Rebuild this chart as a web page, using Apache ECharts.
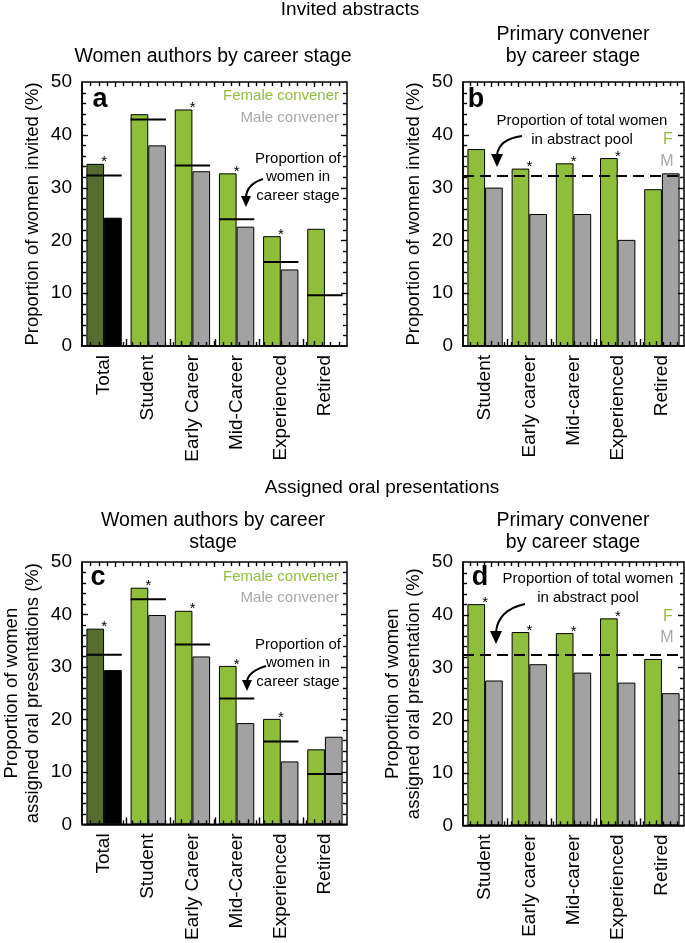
<!DOCTYPE html>
<html>
<head>
<meta charset="utf-8">
<script src="https://cdn.jsdelivr.net/npm/echarts@6/dist/echarts.min.js"></script>
<style>
html,body{margin:0;padding:0;background:#fff;}
#chart{width:685px;height:943px;}
</style>
</head>
<body>
<div id="chart"></div>
<script>
// ---------- data ----------
const stageCats = ['Total', 'Student', 'Early Career', 'Mid-Career', 'Experienced', 'Retired'];
const convenerCats = ['Student', 'Early career', 'Mid-career', 'Experienced', 'Retired'];
const yTicks = [0, 10, 20, 30, 40, 50];

// panel a: invited abstracts, women authors by career stage
const invitedFemaleConv = [34.5, 43.9, 44.8, 32.7, 20.8, 22.2];
const invitedMaleConv = [24.3, 38.0, 33.1, 22.6, 14.5, null];
const invitedStageShare = [32.3, 42.9, 34.2, 24.0, 15.9, 9.6];
const invitedStageSig = [1, 0, 1, 1, 1, 0];

// panel b: invited abstracts, primary convener by career stage
const invitedConvF = [37.3, 33.6, 34.6, 35.6, 29.7];
const invitedConvM = [30.0, 25.0, 25.0, 20.1, 32.7];
const invitedConvSig = [0, 1, 1, 1, 0];
const invitedPoolShare = 32.3;

// panel c: oral presentations, women authors by career stage
const oralFemaleConv = [37.3, 45.1, 40.7, 30.2, 20.1, 14.3];
const oralMaleConv = [29.4, 39.9, 32.0, 19.3, 12.0, 16.7];
const oralStageShare = [32.3, 42.9, 34.3, 24.0, 15.8, 9.6];
const oralStageSig = [1, 1, 1, 1, 1, 0];

// panel d: oral presentations, primary convener by career stage
const oralConvF = [42.0, 36.7, 36.5, 39.3, 31.6];
const oralConvM = [27.5, 30.6, 29.0, 27.1, 25.1];
const oralConvSig = [1, 1, 1, 1, 0];
const oralPoolShare = 32.3;

// ---------- style ----------
const FONT = '"Liberation Sans", Arial, Helvetica, sans-serif';
const GREEN = '#8fbe3a';
const DARKGREEN = '#566d2f';
const GRAY = '#a2a2a2';
const BLACK = '#000';
const Y_MAX = 50, Y_MINOR = 2;

const grids = [
  {left: 82, top: 82, width: 265, height: 264},
  {left: 463, top: 82, width: 221, height: 264},
  {left: 82, top: 562, width: 265, height: 264},
  {left: 463, top: 562, width: 221, height: 264}
];

const yNames = [
  'Proportion of women invited (%)',
  'Proportion of women invited (%)',
  'Proportion of women\nassigned oral presentations (%)',
  'Proportion of women\nassigned oral presentation (%)'
];
const catsFor = [stageCats, convenerCats, stageCats, convenerCats];

const xAxes = [], yAxes = [];
grids.forEach((g, i) => {
  xAxes.push({
    type: 'category', gridIndex: i, data: catsFor[i], position: 'bottom',
    axisLine: {show: true, lineStyle: {color: BLACK, width: 1.5}},
    axisTick: {show: false},
    axisLabel: {rotate: 90, fontSize: 19, color: BLACK, fontFamily: FONT, margin: 9, interval: 0},
    splitLine: {show: false}
  });
  yAxes.push({
    type: 'value', gridIndex: i, position: 'left', min: 0, max: Y_MAX, interval: 10,
    axisLine: {show: true, onZero: false, lineStyle: {color: BLACK, width: 1.5}},
    axisTick: {show: false},
    axisLabel: {fontSize: 19, color: BLACK, fontFamily: FONT, margin: 10,
      formatter: v => yTicks.includes(v) ? String(v) : ''},
    splitLine: {show: false},
    name: yNames[i], nameLocation: 'middle', nameGap: 39, nameRotate: 90,
    nameTextStyle: {fontSize: 18.5, color: BLACK, fontFamily: FONT, lineHeight: 21}
  });
});

function barItems(vals, sig, firstColor) {
  return vals.map((v, k) => {
    const it = {value: v};
    if (k === 0 && firstColor) it.itemStyle = {color: firstColor};
    if (sig && sig[k]) it.label = {show: true};
    return it;
  });
}

const starLabel = {show: false, position: 'top', distance: 0, formatter: '*', offset: [9, 6],
  fontSize: 15, color: BLACK, fontFamily: FONT};

function barSeries(i, vals, color, sig, firstColor, extra) {
  return Object.assign({
    type: 'bar', xAxisIndex: i, yAxisIndex: i, data: barItems(vals, sig, firstColor),
    barGap: '0%', barCategoryGap: '20%',
    itemStyle: {color: color, borderColor: BLACK, borderWidth: 1},
    label: starLabel, silent: true, animation: false
  }, extra || {});
}

function stageLine(i, vals) {
  return {
    type: 'custom', xAxisIndex: i, yAxisIndex: i, z: 5, silent: true, animation: false,
    data: vals.map((v, k) => [k, v]),
    renderItem: function (params, api) {
      const c = api.coord([api.value(0), api.value(1)]);
      const w = api.size([1, 0])[0] * 0.4;
      return {type: 'line', shape: {x1: c[0] - w, y1: c[1], x2: c[0] + w, y2: c[1]},
        style: {stroke: BLACK, lineWidth: 2}};
    }
  };
}

// frame with inward ticks on all four sides (from the axis scales)
function frame(i, nCats) {
  return {
    type: 'custom', xAxisIndex: i, yAxisIndex: i, z: 20, silent: true, animation: false,
    data: [[0, 0]],
    renderItem: function (params, api) {
      const bw = api.size([1, 0])[0];
      const x0 = api.coord([0, 0])[0] - bw / 2;
      const x1 = api.coord([nCats - 1, 0])[0] + bw / 2;
      const yb = api.coord([0, 0])[1];
      const yt = api.coord([0, Y_MAX])[1];
      const st = {stroke: BLACK, lineWidth: 1.4};
      const ch = [];
      ch.push({type: 'rect', shape: {x: x0, y: yt, width: x1 - x0, height: yb - yt},
        style: {fill: null, stroke: BLACK, lineWidth: 1.5}});
      for (let v = Y_MINOR; v < Y_MAX; v += Y_MINOR) {
        const y = Math.round(api.coord([0, v])[1]) + 0.5;
        const len = (v % 10 === 0) ? 6 : 4;
        ch.push({type: 'line', shape: {x1: x0, y1: y, x2: x0 + len, y2: y}, style: st});
        ch.push({type: 'line', shape: {x1: x1, y1: y, x2: x1 - len, y2: y}, style: st});
      }
      const nx = 32;
      for (let k = 1; k < nx; k++) {
        const x = Math.round(x0 + (x1 - x0) * k / nx) + 0.5;
        const len = (k % 4 === 0) ? 5 : 4;
        ch.push({type: 'line', shape: {x1: x, y1: yt, x2: x, y2: yt + len}, style: st});
        ch.push({type: 'line', shape: {x1: x, y1: yb, x2: x, y2: yb - len}, style: st});
      }
      for (let k = 1; k < nCats; k++) {
        const x = Math.round(x0 + bw * k) + 0.5;
        ch.push({type: 'line', shape: {x1: x, y1: yb, x2: x, y2: yb - 7}, style: st});
      }
      return {type: 'group', children: ch};
    }
  };
}

function poolLine(v) {
  return {silent: true, symbol: 'none', animation: false,
    lineStyle: {color: BLACK, width: 2, type: [11, 6]}, label: {show: false},
    data: [{yAxis: v}]};
}

const series = [
  barSeries(0, invitedFemaleConv, GREEN, invitedStageSig, DARKGREEN),
  barSeries(0, invitedMaleConv, GRAY, null, BLACK),
  stageLine(0, invitedStageShare),
  frame(0, stageCats.length),
  barSeries(1, invitedConvF, GREEN, invitedConvSig, null, {markLine: poolLine(invitedPoolShare)}),
  barSeries(1, invitedConvM, GRAY, null, null),
  frame(1, convenerCats.length),
  barSeries(2, oralFemaleConv, GREEN, oralStageSig, DARKGREEN),
  barSeries(2, oralMaleConv, GRAY, null, BLACK),
  stageLine(2, oralStageShare),
  frame(2, stageCats.length),
  barSeries(3, oralConvF, GREEN, oralConvSig, null, {markLine: poolLine(oralPoolShare)}),
  barSeries(3, oralConvM, GRAY, null, null),
  frame(3, convenerCats.length)
];

function txt(text, x, y, opts) {
  return {type: 'text', z: 50, style: Object.assign({
    text: text, x: x, y: y, font: '15px ' + FONT, fill: BLACK,
    textAlign: 'center', textVerticalAlign: 'middle'
  }, opts || {})};
}
function arrow(x0, y0, cx, cy, x1, y1, hw, hh) {
  return [
    {type: 'bezierCurve', z: 50, shape: {x1: x0, y1: y0, cpx1: cx, cpy1: cy, x2: x1, y2: y1},
      style: {stroke: BLACK, lineWidth: 2, fill: null}},
    {type: 'polygon', z: 50, shape: {points: [[x1 - hw, y1 - 1], [x1 + hw, y1 - 1], [x1, y1 + hh]]},
      style: {fill: BLACK}}
  ];
}

const graphic = [
  txt('Invited abstracts', 350, 10, {font: '19px ' + FONT}),
  txt('Assigned oral presentations', 382, 488, {font: '19px ' + FONT}),
  txt('Women authors by career stage', 213, 57, {font: '19.5px ' + FONT}),
  txt('Primary convener\nby career stage', 573, 46, {font: '19.5px ' + FONT, lineHeight: 22}),
  txt('Women authors by career\nstage', 213, 532, {font: '19.5px ' + FONT, lineHeight: 22}),
  txt('Primary convener\nby career stage', 573, 532, {font: '19.5px ' + FONT, lineHeight: 22}),

  txt('a', 100, 100, {font: 'bold 27px ' + FONT}),
  txt('b', 476, 100, {font: 'bold 27px ' + FONT}),
  txt('c', 98, 578, {font: 'bold 27px ' + FONT}),
  txt('d', 480, 578, {font: 'bold 27px ' + FONT}),

  txt('Female convener', 339, 96, {textAlign: 'right', fill: GREEN}),
  txt('Male convener', 339, 118, {textAlign: 'right', fill: '#a8a8a8'}),
  txt('Proportion of\nwomen in\ncareer stage', 298, 177, {lineHeight: 18.5}),
  ...arrow(263, 179, 247, 184, 246, 197, 5, 10),

  txt('Proportion of total women\nin abstract pool', 582, 130, {lineHeight: 19}),
  txt('F', 668, 140, {fill: GREEN, font: '16px ' + FONT}),
  txt('M', 667, 162, {fill: '#a8a8a8', font: '16px ' + FONT}),
  ...arrow(522, 136, 499, 139, 497, 155, 6, 12),

  txt('Female convener', 339, 577, {textAlign: 'right', fill: GREEN}),
  txt('Male convener', 339, 598, {textAlign: 'right', fill: '#a8a8a8'}),
  txt('Proportion of\nwomen in\ncareer stage', 298, 663, {lineHeight: 18.5}),
  ...arrow(266, 666, 249, 671, 247, 681, 5, 10),

  txt('Proportion of total women\nin abstract pool', 588, 588, {lineHeight: 19}),
  txt('F', 668, 617, {fill: GREEN, font: '16px ' + FONT}),
  txt('M', 667, 638, {fill: '#a8a8a8', font: '16px ' + FONT}),
  ...arrow(525, 604, 498, 610, 496, 632, 6, 12)
];

const chart = echarts.init(document.getElementById('chart'), null, {renderer: 'canvas'});
chart.setOption({
  backgroundColor: '#fff',
  animation: false,
  grid: grids.map(g => Object.assign({containLabel: false}, g)),
  xAxis: xAxes,
  yAxis: yAxes,
  series: series,
  graphic: graphic,
  textStyle: {fontFamily: FONT}
});
</script>
</body>
</html>
